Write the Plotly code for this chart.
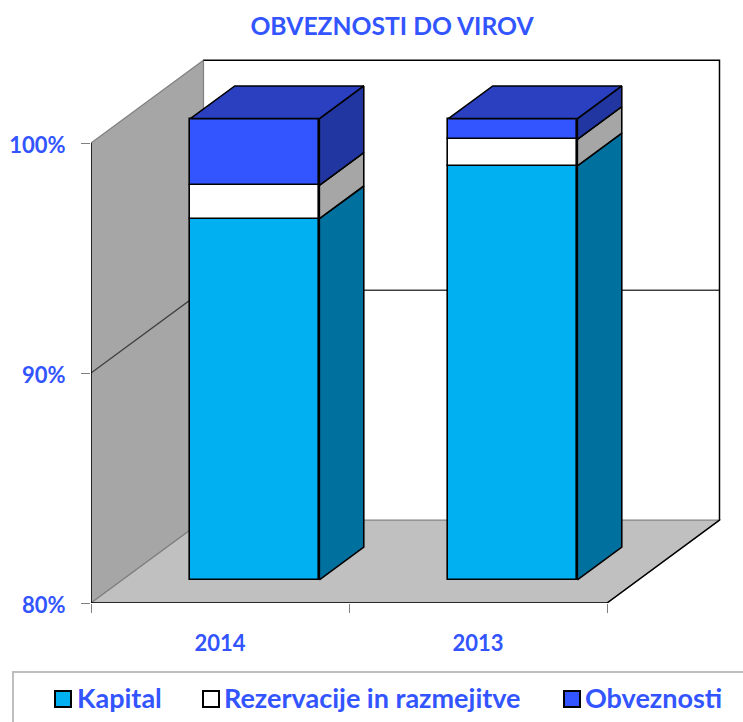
import plotly.graph_objects as go

categories = ["2014", "2013"]
series_names = ["Kapital", "Rezervacije in razmejitve", "Obveznosti"]
kapital = [95.7, 98.0]
rezervacije = [1.45, 1.15]
obveznosti = [2.9, 0.9]
y_ticks = [80, 90, 100]
front_colors = ["#00B0F0", "#FFFFFF", "#3355FF"]
side_colors = ["#00709F", "#A6A6A6", "#2136A0"]
top_color = "#2A40C0"
text_color = "#3355FF"
FONT = "Lato"

DX, DY = 0.436, 3.6          # full floor depth in axis units
D0, D1 = 0.28, 0.675         # bar depth span
BAR_NUDGE = 0.013
BAR_W = 0.5
Y_MIN = 80

OFF = 0                      # body margin removed by the post script below
W, H = 743 - OFF, 722 - OFF
PL, PR, PT, PB = 91, 730, 48, 603   # plot box in window pixels
ML, MT, MB, MR = PL - OFF, PT - OFF, 722 - PB, 743 - PR

def px(x):
    return (x - PL) / (PR - PL)

def py(y):
    return (PB - y) / (PB - PT)

def P(x, v, d=0.0):
    return x + d * DX, v + d * DY

def path(pts):
    return "M " + " L ".join(f"{x},{y}" for x, y in pts) + " Z"

shapes = []
def poly(pts, fill, line="#808080", w=1.2):
    shapes.append(dict(type="path", path=path(pts), fillcolor=fill, layer="below",
                       line=dict(color=line, width=w), xref="x", yref="y"))

# back wall
poly([P(0, 80, 1), P(2, 80, 1), P(2, 100, 1), P(0, 100, 1)], "#FFFFFF", "rgba(0,0,0,0)", 0)
# left wall
poly([P(0, 80), P(0, 80, 1), P(0, 100, 1), P(0, 100)], "#A6A6A6")
# floor
poly([P(0, 80), P(2, 80), P(2, 80, 1), P(0, 80, 1)], "#C0C0C0")
# grid
for t in y_ticks[1:-1]:
    a, b, c = P(0, t), P(0, t, 1), P(2, t, 1)
    shapes.append(dict(type="path", path=f"M {a[0]},{a[1]} L {b[0]},{b[1]} L {c[0]},{c[1]}",
                       line=dict(color="#404040", width=1.4), layer="below", xref="x", yref="y"))

fig = go.Figure()
series = [kapital, rezervacije, obveznosti]
centers = [i + 0.5 + BAR_NUDGE + D0 * DX for i in range(len(categories))]
y_shift = D0 * DY

bases = [Y_MIN] * len(categories)
stack = []
for name, vals, col in zip(series_names, series, front_colors):
    low, high = [], []
    for i, v in enumerate(vals):
        if bases[i] == Y_MIN:
            low.append(Y_MIN); high.append(v)
        else:
            low.append(bases[i]); high.append(bases[i] + v)
    bases = high
    stack.append((low, high))
    fig.add_bar(x=centers, y=[h - l for l, h in zip(low, high)],
                base=[l + y_shift for l in low], width=BAR_W, name=name,
                marker=dict(color=col, line=dict(color="#000000", width=1.6)), showlegend=False)

def face(pts, fill):
    xs, ys = zip(*(pts + [pts[0]]))
    fig.add_scatter(x=xs, y=ys, mode="lines", fill="toself", fillcolor=fill,
                    line=dict(color="#000000", width=1.6), showlegend=False,
                    hoverinfo="skip", cliponaxis=False)

for i in range(len(categories)):
    xl = i + 0.5 + BAR_NUDGE - BAR_W / 2
    xr = i + 0.5 + BAR_NUDGE + BAR_W / 2
    for (low, high), col in zip(stack, side_colors):
        face([P(xr, low[i], D0), P(xr, low[i], D1), P(xr, high[i], D1), P(xr, high[i], D0)], col)
    top = stack[-1][1][i]
    face([P(xl, top, D0), P(xr, top, D0), P(xr, top, D1), P(xl, top, D1)], top_color)

# axis and chart frame lines
bx, by = P(2, 80, 1)
tx, ty = P(2, 100, 1)
lx, ly = P(0, 100, 1)
fig.add_scatter(x=[0, 0, None, 0, 2, bx, tx, lx], y=[100, 80, None, 80, 80, by, ty, ly], mode="lines",
                line=dict(color="#000000", width=1.5), showlegend=False,
                hoverinfo="skip", cliponaxis=False)

# legend frame, swatches and labels
shapes.append(dict(type="path", path=f"M {px(13)},{py(722)} L {px(13)},{py(672)} L {px(743)},{py(672)}",
                   xref="paper", yref="paper", line=dict(color="#BEBEBE", width=2)))
annotations = []
legend_swatch_x = [55, 203, 564]
legend_text_x = [76, 223, 584]
LEG_Y = 699
for name, col, sx, tx_ in zip(series_names, front_colors, legend_swatch_x, legend_text_x):
    shapes.append(dict(type="rect", xref="paper", yref="paper",
                       x0=px(sx), x1=px(sx + 16), y0=py(LEG_Y + 8), y1=py(LEG_Y - 8),
                       fillcolor=col, line=dict(color="#000000", width=2)))
    annotations.append(dict(text=f"<b>{name}</b>", xref="paper", yref="paper", x=px(tx_), y=py(LEG_Y - 2),
                            xanchor="left", yanchor="middle", showarrow=False, xshift=0,
                            borderpad=0, font=dict(size=27, family=FONT, color=text_color)))

fig.update_layout(
    width=W, height=H, autosize=False,
    margin=dict(l=ML, r=MR, t=MT, b=MB, pad=0),
    paper_bgcolor="#FFFFFF", plot_bgcolor="rgba(0,0,0,0)",
    barmode="overlay", bargap=0, shapes=shapes, annotations=annotations,
    showlegend=False,
    font=dict(family=FONT, color=text_color),
    title=dict(text="<b>OBVEZNOSTI DO VIROV</b>", x=(392 - OFF) / W, y=1 - (26 - OFF) / H, xanchor="center",
               yanchor="middle", xref="container", yref="container",
               font=dict(size=24.7, family=FONT, color=text_color)),
    xaxis=dict(range=[0, (PR - PL) / 258], tickmode="array", tickvals=[0.5, 1.5], ticktext=categories,
               ticks="", showgrid=False, showline=False, zeroline=False, automargin=False,
               tickfont=dict(size=22, family=FONT, color=text_color, weight="bold"),
               ticklabelstandoff=25,
               minor=dict(tickmode="array", tickvals=[0, 1, 2], ticks="outside", ticklen=9, tickcolor="#808080",
                          tickwidth=1, showgrid=False)),
    yaxis=dict(range=[80, 80 + (PB - PT) / 23.0], tickmode="array", tickvals=y_ticks,
               ticktext=[f"{t}%" for t in y_ticks], ticks="outside", ticklen=9, tickcolor="#808080",
               showgrid=False, showline=False, zeroline=False, automargin=False,
               ticklabelshift=2,
               tickfont=dict(size=22, family=FONT, color=text_color, weight="bold"), ticklabelstandoff=11),
)
fig.write_html("out.html", config=dict(displayModeBar=False),
               post_script="document.body.style.margin='0';document.documentElement.style.overflow='hidden';")
